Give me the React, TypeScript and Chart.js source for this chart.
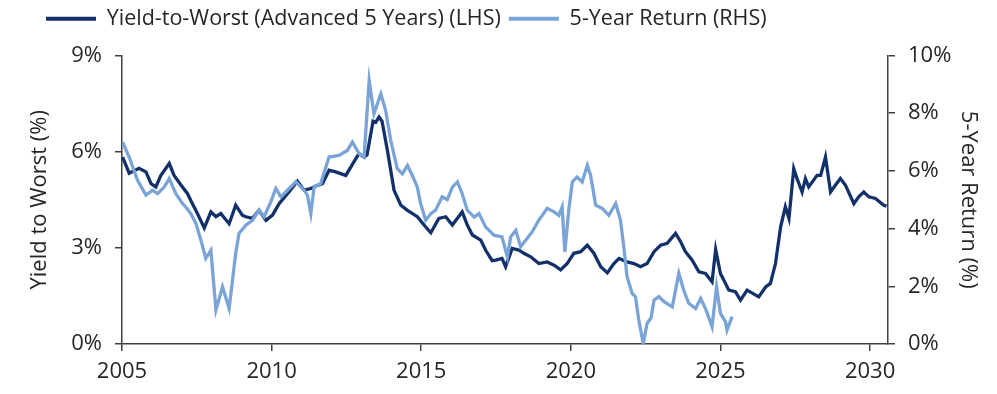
import { useEffect, useRef } from 'react';
import { Chart, registerables } from 'chart.js';

Chart.register(...registerables);

const FONT = "'Open Sans', 'DejaVu Sans', sans-serif";
const DARK = '#12306a';
const LIGHT = '#7aa3d6';
const AXIS = '#404040';
const TEXT = '#262626';

const seriesLabels = ['Yield-to-Worst (Advanced 5 Years) (LHS)', '5-Year Return (RHS)'];
const xTicks = [2005, 2010, 2015, 2020, 2025, 2030];
const leftTicks = [0, 3, 6, 9];
const rightTicks = [0, 2, 4, 6, 8, 10];

const ytwYears = [
  2005.02, 2005.24, 2005.57, 2005.8, 2005.97, 2006.13, 2006.3, 2006.58, 2006.74, 2007.02,
  2007.19, 2007.35, 2007.52, 2007.75, 2007.97, 2008.14, 2008.3, 2008.58, 2008.8, 2009.02,
  2009.14, 2009.36, 2009.58, 2009.81, 2010.03, 2010.25, 2010.58, 2010.86, 2011.09, 2011.31,
  2011.53, 2011.7, 2011.92, 2012.14, 2012.48, 2012.76, 2012.92, 2013.09, 2013.19, 2013.39,
  2013.48, 2013.59, 2013.69, 2013.87, 2014.09, 2014.32, 2014.54, 2014.87, 2015.15, 2015.32,
  2015.59, 2015.82, 2016.04, 2016.21, 2016.37, 2016.54, 2016.71, 2016.99, 2017.15, 2017.37,
  2017.49, 2017.7, 2017.82, 2018.04, 2018.27, 2018.43, 2018.66, 2018.93, 2019.21, 2019.44,
  2019.66, 2019.88, 2020.1, 2020.33, 2020.55, 2020.77, 2021.0, 2021.22, 2021.44, 2021.61,
  2021.88, 2022.11, 2022.33, 2022.55, 2022.78, 2023.0, 2023.22, 2023.5, 2023.67, 2023.83,
  2024.05, 2024.28, 2024.5, 2024.72, 2024.84, 2025.0, 2025.28, 2025.5, 2025.67, 2025.89,
  2026.28, 2026.51, 2026.67, 2026.84, 2027.01, 2027.17, 2027.29, 2027.45, 2027.56, 2027.73,
  2027.84, 2027.95, 2028.23, 2028.35, 2028.51, 2028.68, 2028.84, 2029.01, 2029.18, 2029.46,
  2029.62, 2029.79, 2029.96, 2030.18, 2030.46, 2030.55,
];
const ytwValues = [
  5.83, 5.33, 5.48, 5.37, 5.0, 4.9, 5.26, 5.63, 5.26, 4.9,
  4.69, 4.38, 4.07, 3.62, 4.12, 3.97, 4.07, 3.75, 4.33, 4.02,
  3.97, 3.92, 4.17, 3.86, 4.02, 4.38, 4.74, 5.08, 4.8, 4.85,
  4.95, 5.0, 5.42, 5.37, 5.26, 5.7, 5.94, 5.83, 5.9, 6.95,
  6.92, 7.08, 6.95, 6.04, 4.8, 4.33, 4.17, 3.97, 3.65, 3.47,
  3.92, 3.97, 3.71, 3.92, 4.12, 3.71, 3.4, 3.24, 2.93, 2.6,
  2.62, 2.67, 2.41, 2.98, 2.93, 2.83, 2.72, 2.51, 2.56, 2.46,
  2.31, 2.51, 2.83, 2.88, 3.08, 2.83, 2.41, 2.22, 2.51, 2.67,
  2.56, 2.51, 2.41, 2.51, 2.88, 3.08, 3.14, 3.45, 3.19, 2.88,
  2.62, 2.25, 2.2, 1.94, 2.95, 2.2, 1.68, 1.63, 1.37, 1.68,
  1.47, 1.78, 1.89, 2.51, 3.65, 4.28, 3.92, 5.47, 5.16, 4.74,
  5.16, 4.9, 5.26, 5.26, 5.83, 4.74, 4.95, 5.16, 4.95, 4.38,
  4.59, 4.74, 4.59, 4.54, 4.33, 4.3,
];

const retYears = [
  2005.02, 2005.24, 2005.52, 2005.8, 2006.02, 2006.19, 2006.41, 2006.58, 2006.8, 2007.02,
  2007.13, 2007.3, 2007.47, 2007.69, 2007.8, 2007.97, 2008.14, 2008.36, 2008.58, 2008.8,
  2008.91, 2009.14, 2009.36, 2009.58, 2009.75, 2009.97, 2010.14, 2010.31, 2010.53, 2010.81,
  2011.09, 2011.2, 2011.31, 2011.42, 2011.64, 2011.92, 2012.25, 2012.53, 2012.7, 2012.92,
  2013.09, 2013.26, 2013.42, 2013.65, 2013.81, 2013.98, 2014.2, 2014.37, 2014.54, 2014.7,
  2014.87, 2014.98, 2015.15, 2015.32, 2015.48, 2015.7, 2015.87, 2016.04, 2016.21, 2016.37,
  2016.54, 2016.77, 2016.93, 2017.15, 2017.43, 2017.7, 2017.88, 2017.99, 2018.16, 2018.32,
  2018.49, 2018.71, 2018.93, 2019.21, 2019.44, 2019.6, 2019.71, 2019.8, 2019.93, 2020.05,
  2020.21, 2020.38, 2020.55, 2020.66, 2020.83, 2021.05, 2021.27, 2021.5, 2021.66, 2021.77,
  2021.88, 2022.05, 2022.16, 2022.27, 2022.42, 2022.55, 2022.68, 2022.78, 2022.94, 2023.14,
  2023.39, 2023.61, 2023.77, 2023.94, 2024.17, 2024.34, 2024.5, 2024.72, 2024.87, 2025.0,
  2025.17, 2025.22, 2025.39,
];
const retValues = [
  7.0, 6.48, 5.67, 5.16, 5.33, 5.21, 5.44, 5.73, 5.21, 4.87,
  4.75, 4.52, 4.18, 3.4, 2.97, 3.25, 1.18, 1.98, 1.23, 3.14,
  3.83, 4.12, 4.29, 4.64, 4.41, 4.92, 5.39, 5.1, 5.33, 5.62,
  5.33, 5.15, 4.52, 5.44, 5.56, 6.48, 6.54, 6.71, 7.0, 6.6,
  6.48, 9.13, 7.98, 8.67, 8.1, 7.06, 6.08, 5.9, 6.19, 5.85,
  5.44, 4.87, 4.29, 4.52, 4.64, 5.1, 5.0, 5.44, 5.62, 5.21,
  4.64, 4.4, 4.52, 4.06, 3.77, 3.71, 3.02, 3.71, 3.94, 3.37,
  3.6, 3.89, 4.29, 4.7, 4.58, 4.46, 4.75, 3.19, 4.64, 5.62,
  5.79, 5.62, 6.19, 5.85, 4.81, 4.7, 4.46, 4.87, 4.29, 3.37,
  2.33, 1.75, 1.64, 0.83, 0.02, 0.72, 0.9, 1.52, 1.64, 1.45,
  1.29, 2.45, 1.87, 1.41, 1.23, 1.58, 1.23, 0.6, 1.98, 1.06,
  0.77, 0.48, 0.95,
];

const legendTweak = {
  id: 'legendTweak',
  beforeInit(chart: any) {
    const legend = chart.legend;
    if (!legend) return;
    const origFit = legend.fit;
    legend.fit = function () {
      origFit.call(this);
      this.height += 16;
    };
  },
  afterLayout(chart: any) {
    const legend = chart.legend;
    if (!legend) return;
    const w = legend.width;
    legend.left = 38;
    legend.right = 38 + w;
  },
};

export default function App() {
  const canvasRef = useRef<HTMLCanvasElement | null>(null);

  useEffect(() => {
    document.body.style.margin = '0';
    const canvas = canvasRef.current;
    if (!canvas) return;
    const tickFont = { family: FONT, size: 22 };
    const legendFont = { family: FONT, size: 21.5 };
    const titleFont = { family: FONT, size: 22 };
    const chart = new Chart(canvas, {
      type: 'line',
      data: {
        datasets: [
          {
            label: seriesLabels[0],
            data: ytwYears.map((x, i) => ({ x, y: ytwValues[i] })),
            yAxisID: 'yL',
            borderColor: DARK,
            backgroundColor: DARK,
            borderWidth: 3.3,
            pointRadius: 0,
            tension: 0,
            order: 1,
          },
          {
            label: seriesLabels[1],
            data: retYears.map((x, i) => ({ x, y: retValues[i] })),
            yAxisID: 'yR',
            borderColor: LIGHT,
            backgroundColor: LIGHT,
            borderWidth: 3.3,
            pointRadius: 0,
            tension: 0,
            order: 0,
          },
        ],
      },
      options: {
        animation: false,
        responsive: true,
        maintainAspectRatio: false,
        devicePixelRatio: 1,
        layout: { padding: 0 },
        plugins: {
          tooltip: { enabled: false },
          legend: {
            position: 'top',
            align: 'start',
            labels: {
              boxWidth: 50,
              boxHeight: 4,
              padding: 8,
              color: TEXT,
              font: legendFont,
              sort: (a: any, b: any) => a.datasetIndex - b.datasetIndex,
              generateLabels: (ch: any) =>
                ch.data.datasets.map((ds: any, i: number) => ({
                  text: ds.label,
                  fillStyle: ds.borderColor,
                  strokeStyle: ds.borderColor,
                  lineWidth: 0,
                  hidden: false,
                  datasetIndex: i,
                  fontColor: TEXT,
                })),
            },
          },
        },
        scales: {
          x: {
            type: 'linear',
            position: 'bottom',
            min: 2005,
            max: 2030.6,
            afterBuildTicks: (s: any) => {
              s.ticks = xTicks.map((v) => ({ value: v }));
            },
            afterFit: (s: any) => {
              s.height = 50;
            },
            ticks: {
              autoSkip: false,
              maxRotation: 0,
              padding: 8,
              color: TEXT,
              font: tickFont,
              callback: (v: any) => String(v),
            },
            grid: { drawOnChartArea: false, drawTicks: true, tickLength: 7, color: AXIS, lineWidth: 1.5 },
            border: { display: true, color: AXIS, width: 1.5 },
          },
          yL: {
            type: 'linear',
            position: 'left',
            min: 0,
            max: 9,
            afterBuildTicks: (s: any) => {
              s.ticks = leftTicks.map((v) => ({ value: v }));
            },
            afterFit: (s: any) => {
              s.width = 122;
            },
            ticks: { padding: 13, color: TEXT, font: tickFont, callback: (v: any) => v + '%' },
            grid: { drawOnChartArea: false, drawTicks: true, tickLength: 7, color: AXIS, lineWidth: 1.5 },
            border: { display: true, color: AXIS, width: 1.5 },
            title: {
              display: true,
              text: 'Yield to Worst (%)',
              color: TEXT,
              font: titleFont,
              padding: { top: 27, bottom: 0 },
            },
          },
          yR: {
            type: 'linear',
            position: 'right',
            min: 0,
            max: 10,
            afterBuildTicks: (s: any) => {
              s.ticks = rightTicks.map((v) => ({ value: v }));
            },
            afterFit: (s: any) => {
              s.width = 109;
            },
            ticks: { padding: 13, color: TEXT, font: tickFont, callback: (v: any) => v + '%' },
            grid: { drawOnChartArea: false, drawTicks: true, tickLength: 7, color: AXIS, lineWidth: 1.5 },
            border: { display: true, color: AXIS, width: 1.5 },
            title: {
              display: true,
              text: '5-Year Return (%)',
              color: TEXT,
              font: titleFont,
              padding: { top: 16, bottom: 0 },
            },
          },
        },
      },
      plugins: [legendTweak],
    } as any);
    return () => chart.destroy();
  }, []);

  return (
    <div style={{ position: 'absolute', left: 0, top: 0, width: 997, height: 394 }}>
      <canvas ref={canvasRef} />
    </div>
  );
}
